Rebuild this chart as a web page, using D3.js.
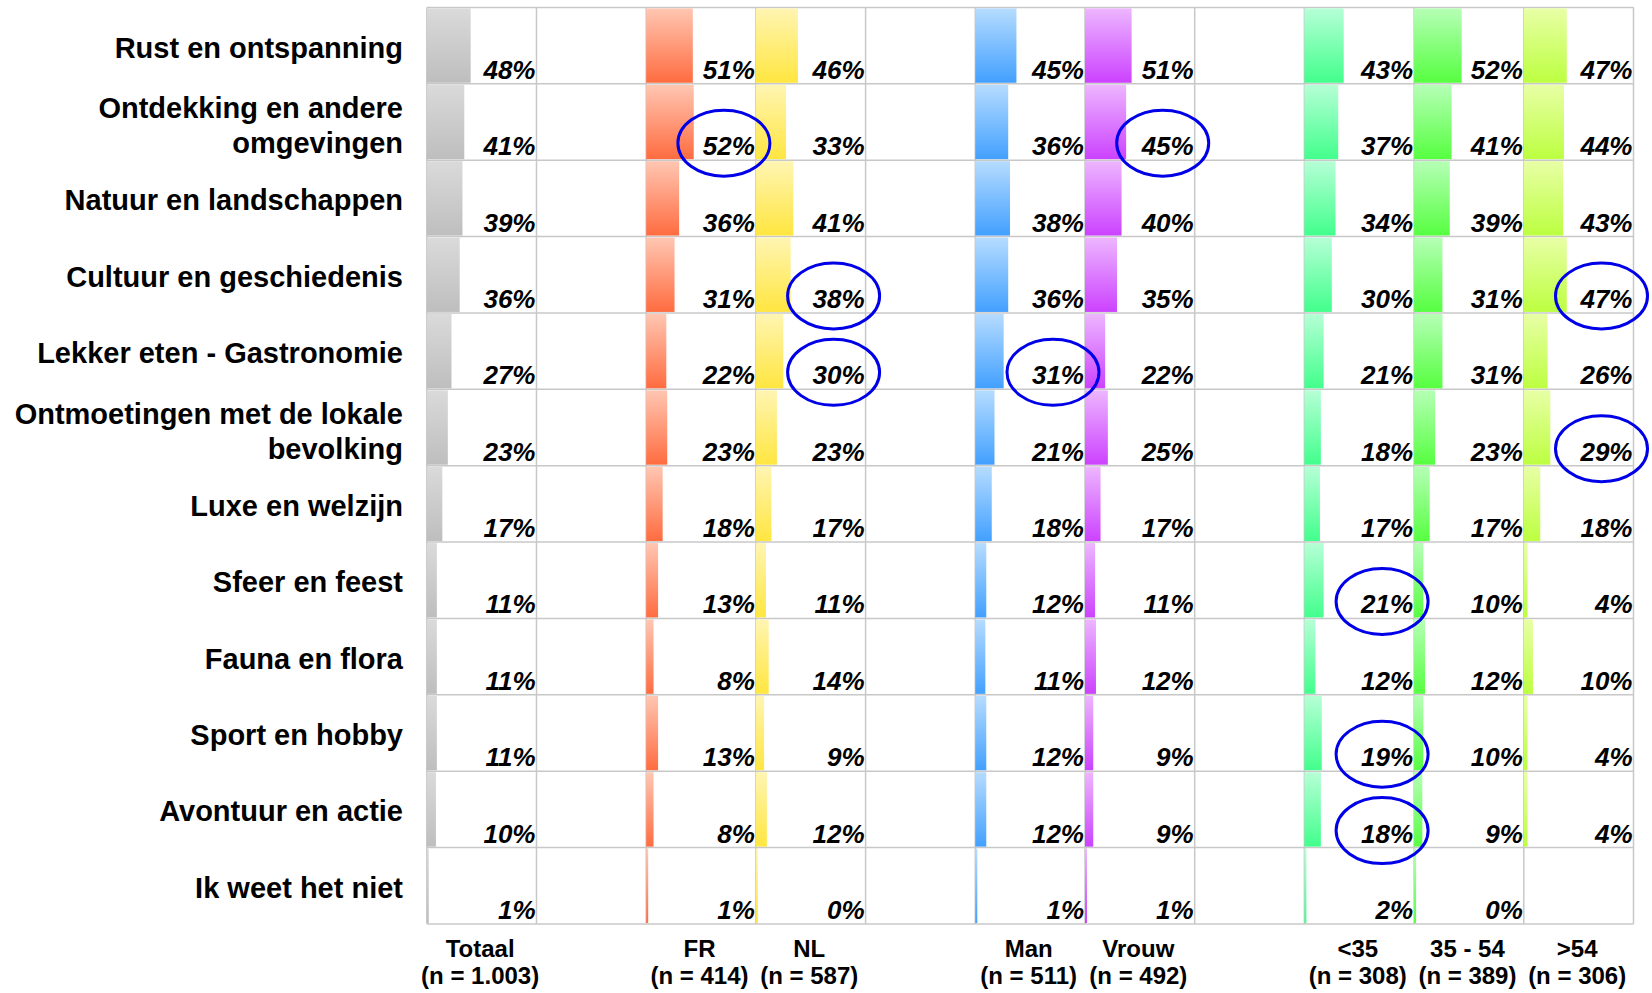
<!DOCTYPE html>
<html>
<head>
<meta charset="utf-8">
<script src="https://cdn.jsdelivr.net/npm/d3@7"></script>
<style>
  html, body { margin: 0; padding: 0; background: #ffffff; }
  svg { display: block; font-family: "Liberation Sans", Arial, Helvetica, sans-serif; }
</style>
</head>
<body>
<svg id="chart" width="1652" height="993"></svg>
<script>
// ---------------- DATA ----------------
const categories = [
  "Rust en ontspanning",
  "Ontdekking en andere omgevingen",
  "Natuur en landschappen",
  "Cultuur en geschiedenis",
  "Lekker eten - Gastronomie",
  "Ontmoetingen met de lokale bevolking",
  "Luxe en welzijn",
  "Sfeer en feest",
  "Fauna en flora",
  "Sport en hobby",
  "Avontuur en actie",
  "Ik weet het niet"
];
const seriesNames = ["Totaal", "FR", "NL", "Man", "Vrouw", "<35", "35 - 54", ">54"];
const sampleSizes = ["(n = 1.003)", "(n = 414)", "(n = 587)", "(n = 511)", "(n = 492)", "(n = 308)", "(n = 389)", "(n = 306)"];
// percentages per series, in category order
const totaal = [48, 41, 39, 36, 27, 23, 17, 11, 11, 11, 10, 1];
const fr     = [51, 52, 36, 31, 22, 23, 18, 13,  8, 13,  8, 1];
const nl     = [46, 33, 41, 38, 30, 23, 17, 11, 14,  9, 12, 0];
const man    = [45, 36, 38, 36, 31, 21, 18, 12, 11, 12, 12, 1];
const vrouw  = [51, 45, 40, 35, 22, 25, 17, 11, 12,  9,  9, 1];
const u35    = [43, 37, 34, 30, 21, 18, 17, 21, 12, 19, 18, 2];
const a3554  = [52, 41, 39, 31, 31, 23, 17, 10, 12, 10,  9, 0];
const o54    = [47, 44, 43, 47, 26, 29, 18,  4, 10,  4,  4, null];
const seriesValues = [totaal, fr, nl, man, vrouw, u35, a3554, o54];
// column order, with empty spacer columns between groups
const columnLayout = ["Totaal", "_g1", "FR", "NL", "_g2", "Man", "Vrouw", "_g3", "<35", "35 - 54", ">54"];
// highlighted (circled) cells: [category, series]
const highlights = [
  ["Ontdekking en andere omgevingen", "FR"],
  ["Ontdekking en andere omgevingen", "Vrouw"],
  ["Cultuur en geschiedenis", "NL"],
  ["Cultuur en geschiedenis", ">54"],
  ["Lekker eten - Gastronomie", "NL"],
  ["Lekker eten - Gastronomie", "Man"],
  ["Ontmoetingen met de lokale bevolking", ">54"],
  ["Sfeer en feest", "<35"],
  ["Sport en hobby", "<35"],
  ["Avontuur en actie", "<35"]
];

// ---------------- STYLE ----------------
const topColors    = ["#dadada", "#ffc6b2", "#fff5b2", "#b6dcff", "#edb6ff", "#b6ffd6", "#b6ffb6", "#e8ffa6"];
const bottomColors = ["#bebebe", "#ff6c40", "#ffe640", "#42a0ff", "#cc42ff", "#42ff8c", "#56ff40", "#bcff40"];
const gridColor = "#c8c8c8";
const circleColor = "#0000e8";

// ---------------- LAYOUT ----------------
const svg = d3.select("#chart");
const gridLeft = 426.8, gridRight = 1633.5, gridTop = 7.4, gridBottom = 924;

const xCol = d3.scaleBand().domain(columnLayout).range([gridLeft, gridRight]).padding(0);
const yRow = d3.scaleBand().domain(categories).range([gridTop, gridBottom]).padding(0);
const bw = xCol.bandwidth(), bh = yRow.bandwidth();
const valueScale = d3.scaleLinear().domain([0, 120]).range([0, bw]);
const fmt = v => d3.format(".0%")(v / 100);

// gradients
const defs = svg.append("defs");
seriesNames.forEach((s, i) => {
  const g = defs.append("linearGradient").attr("id", "grad" + i)
    .attr("x1", 0).attr("y1", 0).attr("x2", 0).attr("y2", 1);
  g.append("stop").attr("offset", "0%").attr("stop-color", topColors[i]);
  g.append("stop").attr("offset", "100%").attr("stop-color", bottomColors[i]);
});

// grid
const grid = svg.append("g").attr("class", "grid")
  .attr("stroke", gridColor).attr("stroke-width", 1.5).attr("fill", "none");
const rowEdges = categories.map(c => yRow(c)).concat([gridBottom]);
const colEdges = columnLayout.map(c => xCol(c)).concat([gridRight]);
grid.selectAll("line.h").data(rowEdges).join("line").attr("class", "h")
  .attr("x1", gridLeft).attr("x2", gridRight).attr("y1", d => d).attr("y2", d => d);
grid.selectAll("line.v").data(colEdges).join("line").attr("class", "v")
  .attr("y1", gridTop).attr("y2", gridBottom).attr("x1", d => d).attr("x2", d => d);

// cells
const cells = [];
seriesNames.forEach((s, si) => {
  categories.forEach((c, ci) => {
    cells.push({ series: s, si: si, cat: c, value: seriesValues[si][ci] });
  });
});
const validCells = cells.filter(d => d.value !== null && d.value !== undefined);

svg.append("g").attr("class", "bars").selectAll("rect").data(validCells).join("rect")
  .attr("x", d => xCol(d.series))
  .attr("y", d => yRow(d.cat) + 1)
  .attr("width", d => Math.max(2, valueScale(d.value)))
  .attr("height", bh - 2)
  .attr("fill", d => "url(#grad" + d.si + ")");

svg.append("g").attr("class", "values").selectAll("text").data(validCells).join("text")
  .attr("x", d => xCol(d.series) + bw - 1)
  .attr("y", d => yRow(d.cat) + bh - 5)
  .attr("text-anchor", "end")
  .attr("font-size", 26).attr("font-weight", "bold").attr("font-style", "italic")
  .attr("fill", "#000")
  .text(d => fmt(d.value));

// highlight ellipses
svg.append("g").attr("class", "highlights").selectAll("ellipse").data(highlights).join("ellipse")
  .attr("cx", d => xCol(d[1]) + bw - 32)
  .attr("cy", d => yRow(d[0]) + bh - 17)
  .attr("rx", 46).attr("ry", 33)
  .attr("fill", "none").attr("stroke", circleColor).attr("stroke-width", 3);

// category labels (wrapped)
const catG = svg.append("g").attr("class", "categories");
const labelRight = 403, wrapWidth = 398, lineGap = 35;
categories.forEach(c => {
  const t = catG.append("text").attr("text-anchor", "end")
    .attr("font-size", 29).attr("font-weight", "bold").attr("fill", "#000");
  // wrap words
  const words = c.split(" ");
  const lines = [];
  let cur = [];
  const probe = t.append("tspan");
  words.forEach(w => {
    const attempt = cur.concat([w]).join(" ");
    probe.text(attempt);
    if (probe.node().getComputedTextLength() > wrapWidth && cur.length) {
      lines.push(cur.join(" "));
      cur = [w];
    } else {
      cur.push(w);
    }
  });
  lines.push(cur.join(" "));
  probe.remove();
  const center = yRow(c) + bh / 2 + (lines.length > 1 ? 13.5 : 12);
  lines.forEach((ln, i) => {
    t.append("tspan").attr("x", labelRight)
      .attr("y", center + (i - (lines.length - 1) / 2) * lineGap)
      .text(ln);
  });
});

// bottom column labels
const colG = svg.append("g").attr("class", "columns");
seriesNames.forEach((s, i) => {
  const cx = xCol(s) + bw / 2;
  colG.append("text").attr("x", cx - 1.5).attr("y", 956.5).attr("text-anchor", "middle")
    .attr("font-size", 24).attr("font-weight", "bold").text(s);
  colG.append("text").attr("x", cx - 1.5).attr("y", 983.5).attr("text-anchor", "middle")
    .attr("font-size", 24).attr("font-weight", "bold").text(sampleSizes[i]);
});
</script>
</body>
</html>
